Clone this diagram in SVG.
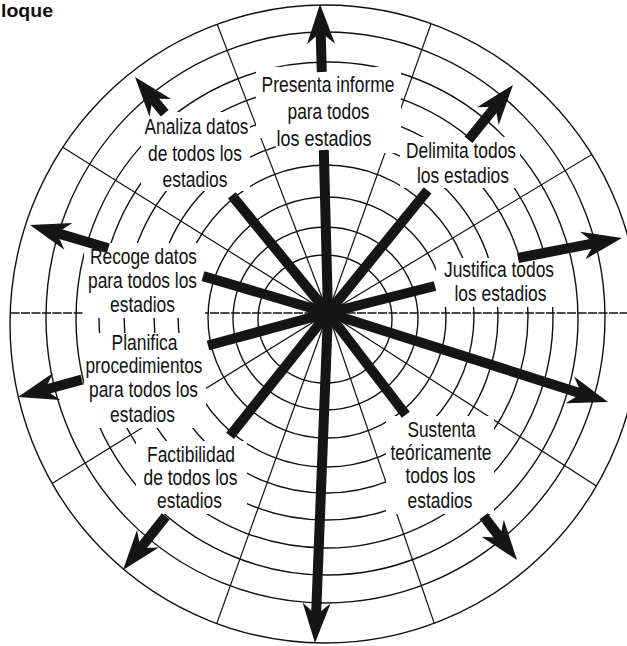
<svg xmlns="http://www.w3.org/2000/svg" width="627" height="646" viewBox="0 0 627 646">
<style>
.ring{fill:none;stroke:#111;stroke-width:1.4}
.spoke{stroke:#111;stroke-width:1.2;fill:none}
.dash{stroke-dasharray:9 1.5;stroke-width:1.4}
.mask{fill:#fff;stroke:none}
.shaft{stroke:#151515;stroke-width:10;stroke-linecap:butt;fill:none}
.head{fill:#151515}
.lbl{font-family:"Liberation Sans Narrow","Liberation Sans",Arial,sans-serif;font-size:22px;fill:#111;text-anchor:middle}
.title{font-family:"Liberation Sans",Arial,sans-serif;font-size:18px;font-weight:bold;fill:#111}
</style>
<defs>
<clipPath id="outer"><ellipse cx="325" cy="324" rx="315" ry="319"/></clipPath>
<path id="ah" d="M0,0 L-40,-14 L-28,0 L-40,14 Z"/>
</defs>
<rect width="627" height="646" fill="#fff"/>
<text class="title" x="1" y="17" textLength="52" lengthAdjust="spacingAndGlyphs">loque</text>
<g id="grid">
<ellipse class="ring" cx="325" cy="319" rx="67" ry="64"/>
<ellipse class="ring" cx="325.5" cy="318.5" rx="92.5" ry="91.5"/>
<ellipse class="ring" cx="327" cy="317.5" rx="119" ry="120.5"/>
<ellipse class="ring" cx="326" cy="316" rx="148" ry="151"/>
<ellipse class="ring" cx="326" cy="316" rx="172" ry="177"/>
<ellipse class="ring" cx="326" cy="316" rx="202" ry="204"/>
<ellipse class="ring" cx="326" cy="317" rx="227" ry="231"/>
<ellipse class="ring" cx="327" cy="318.5" rx="251" ry="256.5"/>
<ellipse class="ring" cx="325.5" cy="317.5" rx="279.5" ry="285.5"/>
<ellipse class="ring" cx="325" cy="324" rx="315" ry="319"/>
<g clip-path="url(#outer)">
<line class="spoke dash" x1="0" y1="313" x2="627" y2="313"/>
<line class="spoke" x1="328" y1="313" x2="636.6" y2="127.6"/>
<line class="spoke" x1="328" y1="313" x2="448.8" y2="-26.2"/>
<line class="spoke" x1="328" y1="313" x2="199" y2="-23.1"/>
<line class="spoke" x1="328" y1="313" x2="22.7" y2="122.2"/>
<line class="spoke" x1="328" y1="313" x2="21.7" y2="502.2"/>
<line class="spoke" x1="328" y1="313" x2="206.6" y2="651.9"/>
<line class="spoke" x1="328" y1="313" x2="444.6" y2="653.6"/>
<line class="spoke" x1="328" y1="313" x2="630.6" y2="508"/>
</g>
</g>
<g id="node-presenta">
<polygon class="mask" points="256,67 401,67 401,153 276,153 276,138 256,138"/>
<text class="lbl" x="328" y="92" textLength="133" lengthAdjust="spacingAndGlyphs">Presenta informe</text>
<text class="lbl" x="328.5" y="119" textLength="82" lengthAdjust="spacingAndGlyphs">para todos</text>
<text class="lbl" x="324" y="146" textLength="95" lengthAdjust="spacingAndGlyphs">los estadios</text>
</g>
<g id="node-analiza">
<rect class="mask" x="141" y="112" width="109" height="79"/>
<text class="lbl" x="196.5" y="134" textLength="104" lengthAdjust="spacingAndGlyphs">Analiza datos</text>
<text class="lbl" x="195" y="161" textLength="94" lengthAdjust="spacingAndGlyphs">de todos los</text>
<text class="lbl" x="195" y="187" textLength="65" lengthAdjust="spacingAndGlyphs">estadios</text>
</g>
<g id="node-delimita">
<rect class="mask" x="400" y="137" width="120" height="51"/>
<text class="lbl" x="461" y="158" textLength="110" lengthAdjust="spacingAndGlyphs">Delimita todos</text>
<text class="lbl" x="463" y="183" textLength="92" lengthAdjust="spacingAndGlyphs">los estadios</text>
</g>
<g id="node-justifica">
<rect class="mask" x="436" y="258" width="124" height="49"/>
<text class="lbl" x="499" y="277" textLength="110" lengthAdjust="spacingAndGlyphs">Justifica todos</text>
<text class="lbl" x="500.5" y="301" textLength="92" lengthAdjust="spacingAndGlyphs">los estadios</text>
</g>
<g id="node-recoge">
<rect class="mask" x="84" y="243" width="121" height="75"/>
<text class="lbl" x="143.5" y="264" textLength="107" lengthAdjust="spacingAndGlyphs">Recoge datos</text>
<text class="lbl" x="142.5" y="288" textLength="109" lengthAdjust="spacingAndGlyphs">para todos los</text>
<text class="lbl" x="142.5" y="312" textLength="65" lengthAdjust="spacingAndGlyphs">estadios</text>
</g>
<g id="node-planifica">
<rect class="mask" x="84" y="333" width="122" height="95"/>
<text class="lbl" x="144.5" y="350" textLength="66" lengthAdjust="spacingAndGlyphs">Planifica</text>
<text class="lbl" x="144" y="373" textLength="117" lengthAdjust="spacingAndGlyphs">procedimientos</text>
<text class="lbl" x="143.5" y="397" textLength="109" lengthAdjust="spacingAndGlyphs">para todos los</text>
<text class="lbl" x="142.5" y="422" textLength="65" lengthAdjust="spacingAndGlyphs">estadios</text>
</g>
<g id="node-factibilidad">
<rect class="mask" x="136" y="441" width="111" height="73"/>
<text class="lbl" x="191" y="462" textLength="88" lengthAdjust="spacingAndGlyphs">Factibilidad</text>
<text class="lbl" x="190.5" y="485" textLength="94" lengthAdjust="spacingAndGlyphs">de todos los</text>
<text class="lbl" x="189.5" y="508" textLength="65" lengthAdjust="spacingAndGlyphs">estadios</text>
</g>
<g id="node-sustenta">
<rect class="mask" x="386" y="416" width="108" height="98"/>
<text class="lbl" x="441.5" y="437" textLength="68" lengthAdjust="spacingAndGlyphs">Sustenta</text>
<text class="lbl" x="441" y="460" textLength="101" lengthAdjust="spacingAndGlyphs">teóricamente</text>
<text class="lbl" x="440.5" y="483" textLength="70" lengthAdjust="spacingAndGlyphs">todos los</text>
<text class="lbl" x="440" y="508" textLength="65" lengthAdjust="spacingAndGlyphs">estadios</text>
</g>
<g id="connectors">
<line class="shaft" x1="328" y1="313" x2="323.8" y2="150"/>
<line class="shaft" x1="321.8" y1="72" x2="320.6" y2="30"/>
<use href="#ah" class="head" transform="translate(320,4) rotate(-91.48)"/>
<line class="shaft" x1="328" y1="313" x2="316" y2="617"/>
<use href="#ah" class="head" transform="translate(315,643) rotate(92.26)"/>
<line class="shaft" x1="328" y1="313" x2="427.6" y2="190.3"/>
<line class="shaft" x1="468.5" y1="139.8" x2="497.2" y2="104.4"/>
<use href="#ah" class="head" transform="translate(513,85) rotate(-50.94)"/>
<line class="shaft" x1="328" y1="313" x2="435" y2="286"/>
<line class="shaft" x1="518" y1="258" x2="597.4" y2="242.7"/>
<use href="#ah" class="head" transform="translate(622,238) rotate(-10.89)"/>
<line class="shaft" x1="328" y1="313" x2="584.2" y2="394.4"/>
<use href="#ah" class="head" transform="translate(608,402) rotate(17.63)"/>
<line class="shaft" x1="328" y1="313" x2="405.8" y2="414.7"/>
<line class="shaft" x1="483.6" y1="516.3" x2="501.8" y2="540.1"/>
<use href="#ah" class="head" transform="translate(517,560) rotate(52.58)"/>
<line class="shaft" x1="328" y1="313" x2="230.1" y2="435.8"/>
<line class="shaft" x1="165.8" y1="516.3" x2="138.6" y2="550.5"/>
<use href="#ah" class="head" transform="translate(123,570) rotate(128.58)"/>
<line class="shaft" x1="328" y1="313" x2="208" y2="345.5"/>
<line class="shaft" x1="81.9" y1="379.7" x2="42.1" y2="390.5"/>
<use href="#ah" class="head" transform="translate(18,397) rotate(164.84)"/>
<line class="shaft" x1="328" y1="313" x2="203" y2="276.1"/>
<line class="shaft" x1="108.3" y1="248.2" x2="54" y2="232.1"/>
<use href="#ah" class="head" transform="translate(30,225) rotate(-163.55)"/>
<line class="shaft" x1="328" y1="313" x2="231.8" y2="195.4"/>
<line class="shaft" x1="164.7" y1="113.3" x2="150.8" y2="96.4"/>
<use href="#ah" class="head" transform="translate(135,77) rotate(-129.28)"/>
</g>
</svg>
